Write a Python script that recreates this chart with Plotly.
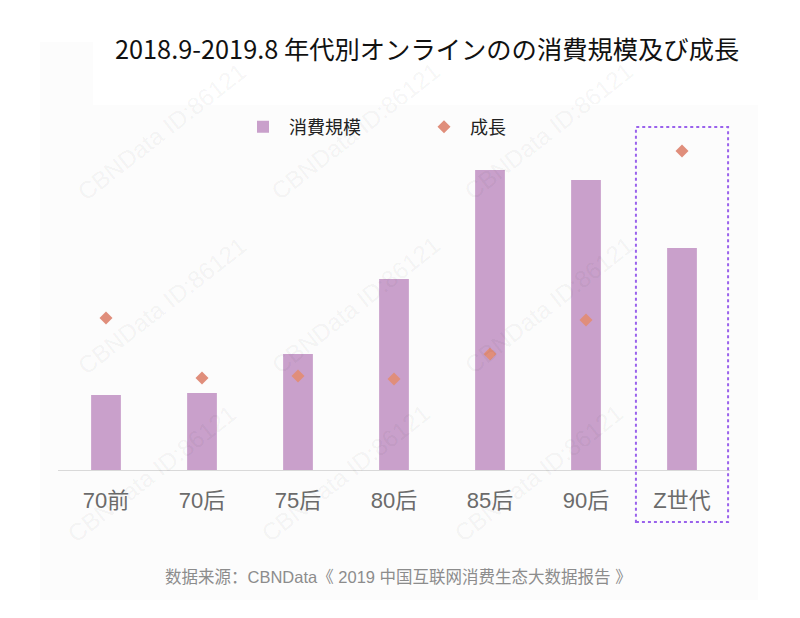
import plotly.graph_objects as go

categories = ["70前", "70后", "75后", "80后", "85后", "90后", "Z世代"]
scale_values = [75, 77, 116, 191, 300, 290, 222]      # 消費規模 (relative)
growth_values = [152, 92, 94, 91, 116, 150, 319]      # 成長 (relative)

title_text = "2018.9-2019.8 年代別オンラインのの消費規模及び成長"
source_text = "数据来源：CBNData《 2019 中国互联网消费生态大数据报告 》"
watermark = "CBNData ID:86121"

BAR_COLOR = "#C9A0CB"
DOT_COLOR = "#E08E7B"
BOX_COLOR = "#9A62EC"
CJK = "Noto Sans CJK JP, Noto Sans CJK SC, sans-serif"
LAT = "Arial, Liberation Sans, Noto Sans CJK SC, sans-serif"

W, H = 800, 618
OFF = 8                      # page body margin
RL, RBASE = 58, 470          # reference plot-left / baseline in screen px
PW, PH = 672, 340            # plot size
L, T = RL - OFF, RBASE - PH - OFF
R, B = W - L - PW, H - T - PH


def px(x):
    return (x - RL) / PW


def py(y):
    return (RBASE - y) / PH


fig = go.Figure()
fig.add_trace(go.Bar(
    x=categories, y=scale_values, name="消費規模",
    marker=dict(color=BAR_COLOR, line=dict(width=0)), width=0.31,
))
fig.add_trace(go.Scatter(
    x=categories, y=growth_values, name="成長", mode="markers",
    marker=dict(symbol="diamond", size=10, color=DOT_COLOR),
))

shapes = [
    dict(type="rect", xref="paper", yref="paper",
         x0=px(40), x1=px(758), y0=py(600), y1=py(42),
         fillcolor="#FCFCFC", line=dict(width=0), layer="below"),
    dict(type="rect", xref="paper", yref="paper",
         x0=px(93), x1=px(758), y0=py(105), y1=py(42),
         fillcolor="#FFFFFF", line=dict(width=0), layer="below"),
    dict(type="rect", xref="x", yref="paper",
         x0=5.52, x1=6.48, y0=py(522), y1=py(127),
         line=dict(color=BOX_COLOR, width=2, dash="dot"), layer="above"),
]

annotations = []
for (cx, cy) in [(70, 55), (355, 55), (640, 55),
                 (70, 305), (355, 305), (640, 305),
                 (60, 550), (345, 550), (630, 550)]:
    annotations.append(dict(
        text=watermark, xref="paper", yref="paper",
        x=px(cx), y=py(cy),
        showarrow=False, textangle=-38,
        font=dict(family="Arial, Liberation Sans, sans-serif", size=24,
                  color="rgba(0,0,0,0.055)"),
    ))
annotations.append(dict(
    text=source_text, xref="paper", yref="paper",
    x=px(398), y=py(577),
    showarrow=False, xanchor="center", yanchor="middle",
    font=dict(family=LAT, size=16.5, color="#8C8C8C"),
))

fig.update_layout(
    width=W, height=H,
    margin=dict(l=L, r=R, t=T, b=B, pad=0),
    paper_bgcolor="white", plot_bgcolor="rgba(0,0,0,0)",
    title=dict(text=title_text, xref="container", yref="container",
               x=(115 - OFF) / W, xanchor="left",
               y=1 - (50 - OFF) / H, yanchor="middle",
               font=dict(family=CJK, size=25.3, color="#111111")),
    showlegend=True,
    legend=dict(orientation="h", xref="paper", yref="paper",
                x=px(237), xanchor="left",
                y=py(127), yanchor="middle",
                entrywidth=124, entrywidthmode="pixels",
                itemwidth=42,
                bgcolor="rgba(0,0,0,0)",
                font=dict(family=CJK, size=18, color="#222222")),
    xaxis=dict(showgrid=False, zeroline=False, showline=True,
               linecolor="#D9D9D9", linewidth=1, ticks="",
               ticklabelstandoff=11,
               tickfont=dict(family=LAT, size=22, color="#6B6B6B"),
               range=[-0.5, 6.5]),
    yaxis=dict(visible=False, range=[0, PH], showgrid=False, zeroline=False),
    shapes=shapes, annotations=annotations,
    bargap=0.69,
)

fig.write_html("out.html")
